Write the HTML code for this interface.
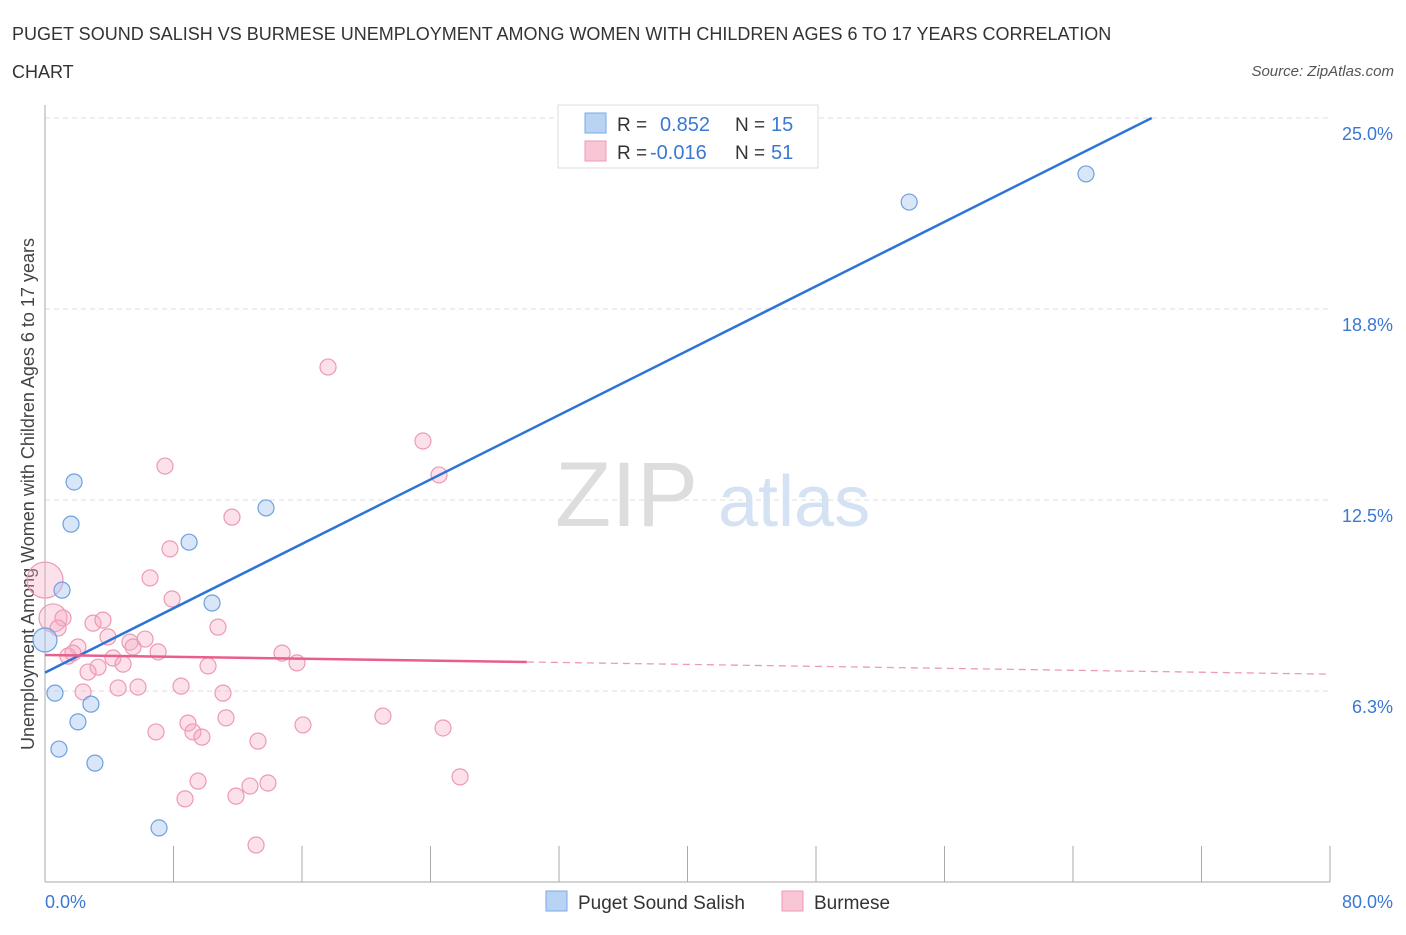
<!DOCTYPE html>
<html><head><meta charset="utf-8"><style>
body{margin:0;background:#fff;font-family:"Liberation Sans",sans-serif;}
svg text{font-family:"Liberation Sans",sans-serif;}
</style></head><body>
<svg id="chart" width="1406" height="930" xmlns="http://www.w3.org/2000/svg">
<text x="12" y="40" font-size="18" fill="#333">PUGET SOUND SALISH VS BURMESE UNEMPLOYMENT AMONG WOMEN WITH CHILDREN AGES 6 TO 17 YEARS CORRELATION</text>
<text x="12" y="78" font-size="18" fill="#333">CHART</text>
<text x="1394" y="76" font-size="15" font-style="italic" fill="#555" text-anchor="end">Source: ZipAtlas.com</text>
<text transform="translate(34,494) rotate(-90)" font-size="18" fill="#444" text-anchor="middle">Unemployment Among Women with Children Ages 6 to 17 years</text>
<text x="555" y="526" font-size="92" font-family="Liberation Serif" fill="#ddd">ZIP</text>
<text x="718" y="526" font-size="72" fill="#d4e2f4">atlas</text>
<g id="grid"></g><g id="axes"></g><g id="marks"></g>
<g>
<rect x="558" y="105" width="260" height="63" fill="#fff" stroke="#ddd"/>
<rect x="585" y="113" width="21" height="20" fill="#b9d3f5" stroke="#7aa9e6"/>
<rect x="585" y="141" width="21" height="20" fill="#f9c6d5" stroke="#ee9ab3"/>
<text x="617" y="131" font-size="19" fill="#333">R =</text><text x="660" y="131" font-size="20" fill="#3a78d4">0.852</text>
<text x="735" y="131" font-size="19" fill="#333">N =</text><text x="771" y="131" font-size="20" fill="#3a78d4">15</text>
<text x="617" y="159" font-size="19" fill="#333">R =</text><text x="650" y="159" font-size="20" fill="#3a78d4">-0.016</text>
<text x="735" y="159" font-size="19" fill="#333">N =</text><text x="771" y="159" font-size="20" fill="#3a78d4">51</text>
</g>
<g>
<rect x="546" y="891" width="21" height="20" fill="#b9d3f5" stroke="#7aa9e6"/>
<text x="578" y="909" font-size="19" fill="#333">Puget Sound Salish</text>
<rect x="782" y="891" width="21" height="20" fill="#f9c6d5" stroke="#ee9ab3"/>
<text x="814" y="909" font-size="19" fill="#333">Burmese</text>
</g>
</svg>
<script>
const yTicks=[6.25,12.5,18.75,25];
const yTickLabels=["6.3%","12.5%","18.8%","25.0%"];
const xTickLabels=["0.0%","80.0%"];
const blueX=[0,0.62,0.87,1.06,1.62,1.81,2.05,2.86,3.11,7.10,8.97,10.40,13.76,53.80,64.81];
const blueY=[7.92,6.18,4.35,9.55,11.71,13.09,5.24,5.82,3.89,1.77,11.12,9.13,12.24,22.25,23.17];
const pinkX=[0,0.5,7.47,11.64,7.78,6.54,7.91,2.99,3.61,3.92,2.05,1.43,1.74,10.77,5.29,5.48,6.23,7.04,4.23,4.86,3.30,2.68,10.15,14.76,15.69,2.37,4.55,5.79,8.47,11.08,11.27,8.90,9.21,9.77,6.91,16.06,13.26,9.53,8.72,11.89,12.76,13.88,13.14,1.12,0.81,17.62,23.53,24.53,21.04,24.78,25.84];
const pinkY=[9.88,8.64,13.61,11.94,10.90,9.95,9.26,8.47,8.57,8.02,7.69,7.39,7.49,8.34,7.85,7.69,7.95,7.53,7.33,7.13,7.03,6.87,7.07,7.49,7.17,6.22,6.35,6.38,6.41,6.18,5.37,5.20,4.91,4.74,4.91,5.14,4.61,3.30,2.72,2.81,3.14,3.24,1.21,8.64,8.31,16.85,14.43,13.32,5.43,5.04,3.44];
const pinkR=[18,14];
const blueR=[12];
const blueFit=[[0,6.85],[68.9,25]];
const pinkFit=[[0,7.43],[30,7.2],[80,6.8]];
const NS="http://www.w3.org/2000/svg";
const X=v=>45+v/80*1285;
const Y=v=>882-v/6.25*191;
function mk(t,a,p){const e=document.createElementNS(NS,t);for(const k in a)e.setAttribute(k,a[k]);document.getElementById(p).appendChild(e);return e;}
yTicks.forEach((t,i)=>{
 const l=mk('line',{x1:45,x2:1330,y1:Y(t),y2:Y(t),stroke:'#ddd','stroke-dasharray':'5,4'},'grid');
 
 
 const tx=mk('text',{x:1393,y:Y(t)+22,'font-size':18,fill:'#3a78d4','text-anchor':'end'},'axes');
 tx.textContent=yTickLabels[i];
 
 
});
const ax=mk('line',{x1:45,x2:45,y1:105,y2:882,stroke:'#aaa'},'axes');


const bx=mk('line',{x1:45,x2:1330,y1:882,y2:882,stroke:'#aaa'},'axes');


for(let i=0;i<=10;i++){
 const t=mk('line',{x1:X(i*8),x2:X(i*8),y1:846,y2:882,stroke:'#aaa'},'axes');
 
 
}
xTickLabels.forEach((s,i)=>{
 const t=mk('text',{x:i?1393:45,y:908,'font-size':18,fill:'#3a78d4','text-anchor':i?'end':'start'},'axes');
 t.textContent=s;
 
 
});
pinkX.forEach((x,i)=>{
 const c=mk('circle',{cx:X(x),cy:Y(pinkY[i]),r:pinkR[i]||8,fill:'rgba(246,170,194,0.35)',stroke:'#ec9ab4','stroke-width':1.2},'marks');
 
 
});
blueX.forEach((x,i)=>{
 const c=mk('circle',{cx:X(x),cy:Y(blueY[i]),r:blueR[i]||8,fill:'rgba(170,200,240,0.45)',stroke:'#6fa0e0','stroke-width':1.2},'marks');
 
 
});
const bl=mk('line',{x1:X(blueFit[0][0]),y1:Y(blueFit[0][1]),x2:X(blueFit[1][0]),y2:Y(blueFit[1][1]),stroke:'#2d74d6','stroke-width':2.5},'marks');


const pl=mk('line',{x1:X(pinkFit[0][0]),y1:Y(pinkFit[0][1]),x2:X(pinkFit[1][0]),y2:Y(pinkFit[1][1]),stroke:'#e8608a','stroke-width':2.5},'marks');


const pd=mk('line',{x1:X(pinkFit[1][0]),y1:Y(pinkFit[1][1]),x2:X(pinkFit[2][0]),y2:Y(pinkFit[2][1]),stroke:'#ee9ab4','stroke-width':1.3,'stroke-dasharray':'7,5'},'marks');


</script>
</body></html>
